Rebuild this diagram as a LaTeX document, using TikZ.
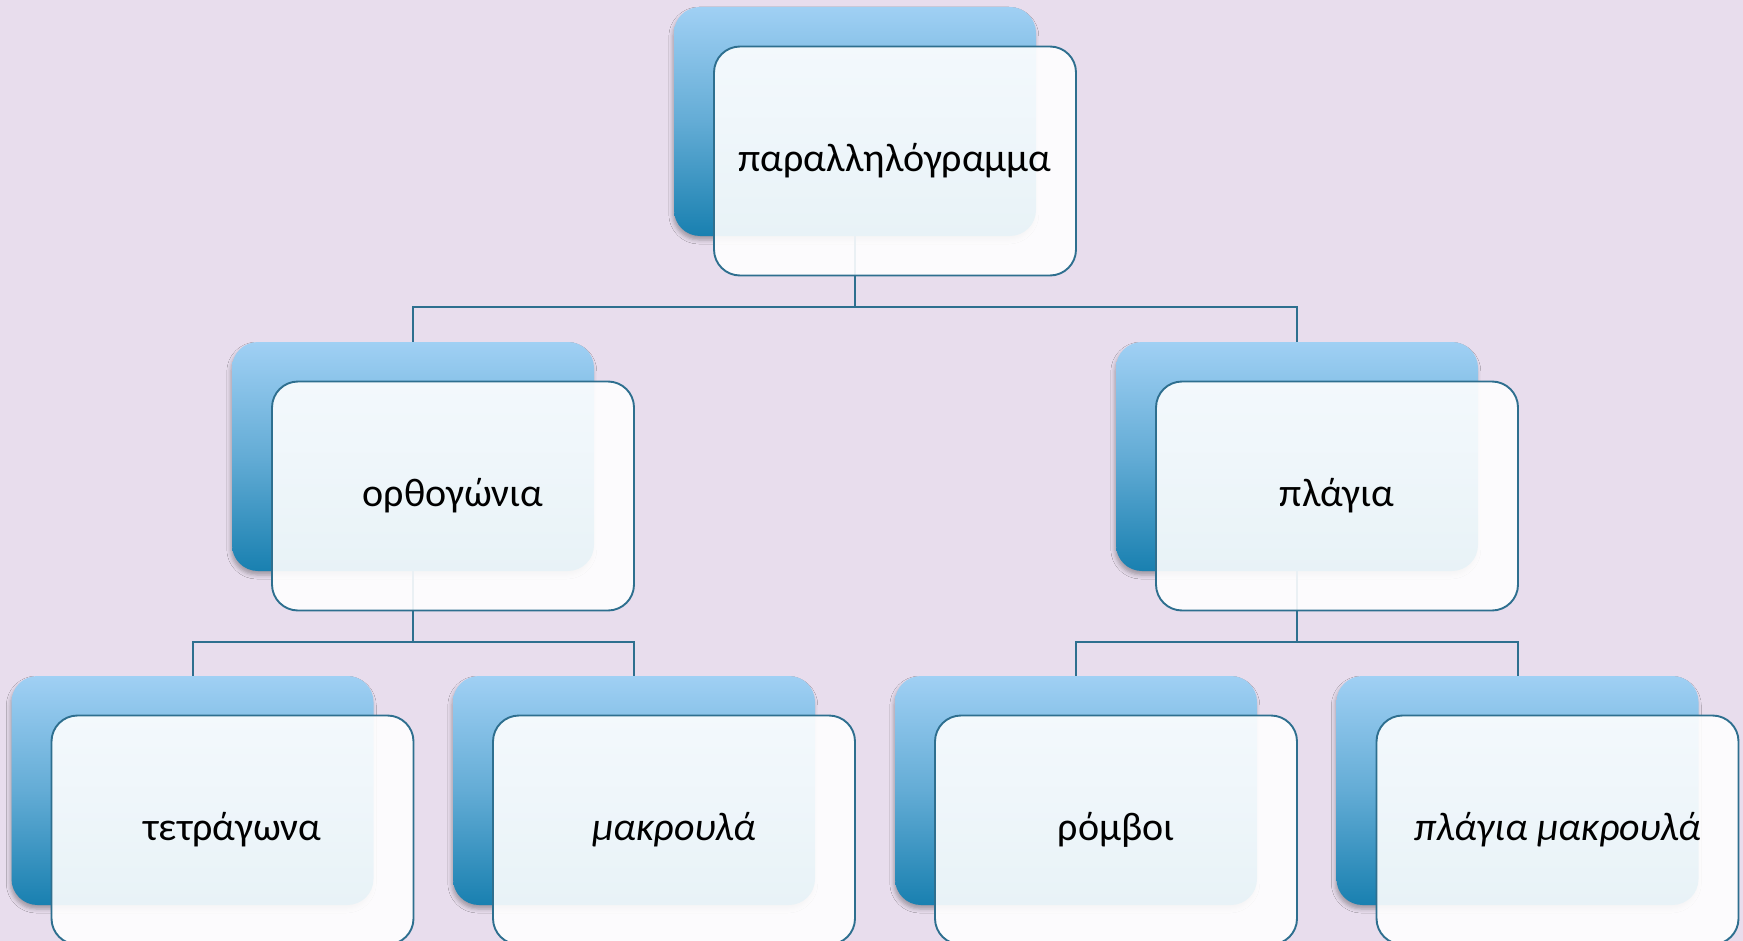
\documentclass[tikz,border=0pt]{standalone}
\usepackage{fontspec}
\setmainfont{Carlito}
\usetikzlibrary{shadows.blur}
\definecolor{bgc}{HTML}{E8DDED}
\definecolor{linec}{HTML}{2E6F8F}
\definecolor{backtop}{HTML}{A0D0F4}
\definecolor{backbot}{HTML}{1980B0}
\tikzset{
  backbox/.style={rectangle, rounded corners=13pt, minimum width=181pt,
    minimum height=114.5pt, inner sep=0pt, top color=backtop, bottom color=backbot,
    middle color=backtop!55!backbot, shading angle=0,
    blur shadow={shadow xshift=-0.6pt, shadow yshift=-2pt, shadow blur radius=2pt, shadow opacity=30}},
  frontbox/.style={rectangle, rounded corners=13pt, minimum width=181pt,
    minimum height=114.5pt, inner sep=0pt, draw=linec, line width=0.95pt,
    fill=white, fill opacity=0.9, text opacity=1, font=\fontsize{20}{24}\selectfont},
  conn/.style={draw=linec, line width=1pt},
}
\begin{document}
\begin{tikzpicture}[x=0.5pt,y=-0.5pt]
\useasboundingbox (0,0) rectangle (1743,941);
\fill[bgc] (0,0) rectangle (1743,941);

% back panels
\node[backbox] (pb)  at (855,121.5) {};
\node[backbox] (ob)  at (413,456.5) {};
\node[backbox] (plb) at (1297,456.5) {};
\node[backbox] (tb)  at (192.5,790.5) {};
\node[backbox] (mb)  at (634,790.5) {};
\node[backbox] (rb)  at (1076,790.5) {};
\node[backbox] (pmb) at (1517.5,790.5) {};

% connectors
\coordinate (j1) at (855,307);
\coordinate (j2) at (413,642);
\coordinate (j3) at (1297,642);
\draw[conn] (pb.south) -- (j1) -| (ob.north);
\draw[conn] (j1) -| (plb.north);
\draw[conn] (ob.south) -- (j2) -| (tb.north);
\draw[conn] (j2) -| (mb.north);
\draw[conn] (plb.south) -- (j3) -| (rb.north);
\draw[conn] (j3) -| (pmb.north);

% front panels with labels
\node[frontbox] (p)  at (895,161) {παραλληλόγραμμα};
\node[frontbox] (o)  at (453,496) {ορθογώνια};
\node[frontbox] (pl) at (1337,496) {πλάγια};
\node[frontbox] (t)  at (232.5,830) {τετράγωνα};
\node[frontbox] (m)  at (674,830) {\itshape μακρουλά};
\node[frontbox] (r)  at (1116,830) {ρόμβοι};
\node[frontbox] (pm) at (1557.5,830) {\itshape πλάγια μακρουλά};
\end{tikzpicture}
\end{document}
